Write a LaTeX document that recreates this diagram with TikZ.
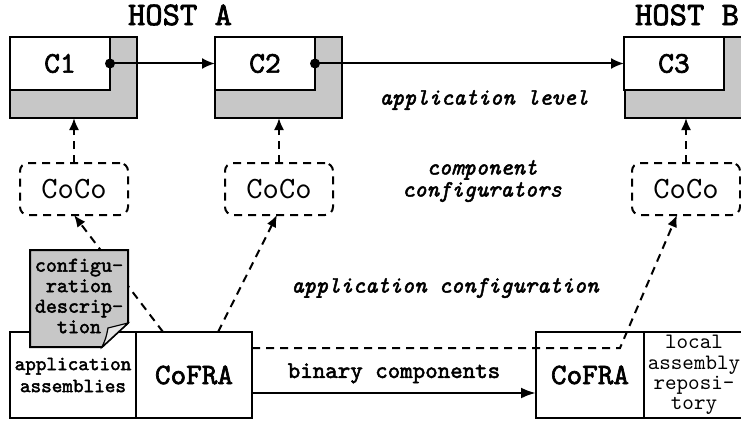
\documentclass[tikz,border=0pt]{standalone}
\usepackage{fontspec}
\setmonofont{lmmono10-regular.otf}[
    BoldFont = lmmono10-regular.otf,
    BoldFeatures = {FakeBold = 2.2},
    ItalicFont = lmmono10-italic.otf,
    BoldItalicFont = lmmono10-italic.otf,
    BoldItalicFeatures = {FakeBold = 2}]
\usetikzlibrary{arrows.meta,calc}

\begin{document}
\begin{tikzpicture}[x = 1pt, y = -1pt,
    outerbox/.style = {draw, line width = 2.6pt, fill = black!22, inner sep = 0pt, outer sep = 0pt,
        minimum width = 127pt, minimum height = 81pt},
    innerbox/.style = {draw, line width = 2pt, fill = white, inner sep = 0pt, outer sep = 0pt,
        minimum width = 100pt, minimum height = 53pt, font = \ttfamily\bfseries\fontsize{30}{32}\selectfont},
    cocobox/.style = {draw, line width = 2pt, dash pattern = on 8pt off 6pt, rounded corners = 8pt,
        inner sep = 0pt, outer sep = 0pt, minimum width = 108pt, minimum height = 52pt,
        font = \ttfamily\fontsize{31}{33}\selectfont},
    lowbox/.style = {draw, line width = 2.6pt, fill = white, inner sep = 0pt, outer sep = 0pt,
        minimum height = 86pt, align = center},
    host/.style = {font = \ttfamily\bfseries\fontsize{33}{35}\selectfont},
    lvl/.style = {align = center, font = \ttfamily\bfseries\itshape\fontsize{23.4}{22}\selectfont},
    conn/.style = {line width = 2pt, -{Latex[length = 13pt, width = 11pt]}},
    cfg/.style = {line width = 2pt, dash pattern = on 8pt off 6pt, -{Latex[length = 12pt, width = 10pt]}}]
    \useasboundingbox (0,0) rectangle (741,420);
    \clip (0,0) rectangle (741,420);
    \fill[white] (0,0) rectangle (741,420);
    % hosts
    \node[host] (hostA) at (180,15) {HOST A};
    \node[host] (hostB) at (687,15) {HOST B};
    % components
    \node[outerbox] (H1) at (73.5,77.5) {};
    \node[innerbox] (C1) at (60,63.5) {C1};
    \node[outerbox] (H2) at (278.5,77.5) {};
    \node[innerbox] (C2) at (265,63.5) {C2};
    \node[outerbox, minimum width = 135pt] (H3) at (692.5,77.5) {};
    \node[innerbox] (C3) at (674,63.5) {C3};
    \draw[conn] (C1.east) to (C2.west);
    \draw[conn] (C2.east) to (C3.west);
    \fill (C1.east) circle (5pt);
    \fill (C2.east) circle (5pt);
    % component configurators
    \node[cocobox] (K1) at (74,189) {CoCo};
    \node[cocobox] (K2) at (279,189) {CoCo};
    \node[cocobox] (K3) at (686,189) {CoCo};
    \draw[cfg] (K1.north) to (K1.north |- H1.south);
    \draw[cfg] (K2.north) to (K2.north |- H2.south);
    \draw[cfg] (K3.north) to (K3.north |- H3.south);
    % levels
    \node[lvl] (lvlApp) at (484,100) {application level};
    \node[lvl] (lvlCoco) at (482,181) {component\\configurators};
    \node[lvl] (lvlCfg) at (445,288) {application configuration};
    % bottom boxes
    \node[lowbox, minimum width = 126pt, font = \ttfamily\bfseries\fontsize{20.2}{22}\selectfont]
        (AA) at (73,375) {application\\assemblies};
    \node[lowbox, minimum width = 116pt, font = \ttfamily\bfseries\fontsize{29.7}{31}\selectfont]
        (F1) at (194,375) {CoFRA};
    \node[lowbox, minimum width = 108pt, font = \ttfamily\bfseries\fontsize{29.7}{31}\selectfont]
        (F2) at (590,375) {CoFRA};
    \node[lowbox, minimum width = 100pt, font = \ttfamily\fontsize{22}{20.3}\selectfont]
        (LAR) at (694,375) {local\\assembly\\reposi-\\tory};
    % configuration
    \coordinate (a1) at ($(F1.north west)!0.233!(F1.north east)$);
    \coordinate (a2) at ($(F1.north west)!0.707!(F1.north east)$);
    \coordinate (d1) at ($(F1.east)+(0,-27)$);
    \coordinate (d2) at ($(F2.west)+(84,-27)$);
    \draw[cfg] (a1) to (K1.south);
    \draw[cfg] (a2) to ([xshift = -2pt]K2.south);
    \draw[cfg] (d1) to (d2) to ([xshift = -9pt]K3.south);
    % binary components
    \draw[line width = 2.6pt, -{Latex[length = 15pt, width = 11pt]}]
        ($(F1.east)+(0,18)$) to node[midway, above = 5pt, font = \ttfamily\bfseries\fontsize{23.8}{25}\selectfont]
        (bin) {binary components} ($(F2.west)+(0,18)$);
    % configuration description
    \draw[line width = 2pt, fill = black!22] (30,250) -- (128,250) -- (128,323) -- (102,347) -- (30,347) -- cycle;
    \draw[line width = 1.2pt, fill = black!10] (102,347) .. controls (106,338) .. (108,328) -- (128,323) -- cycle;
    \node[align = center, font = \ttfamily\bfseries\fontsize{21}{20.5}\selectfont]
        (desc) at (79,296) {configu-\\ration\\descrip-\\tion};
\end{tikzpicture}
\end{document}
